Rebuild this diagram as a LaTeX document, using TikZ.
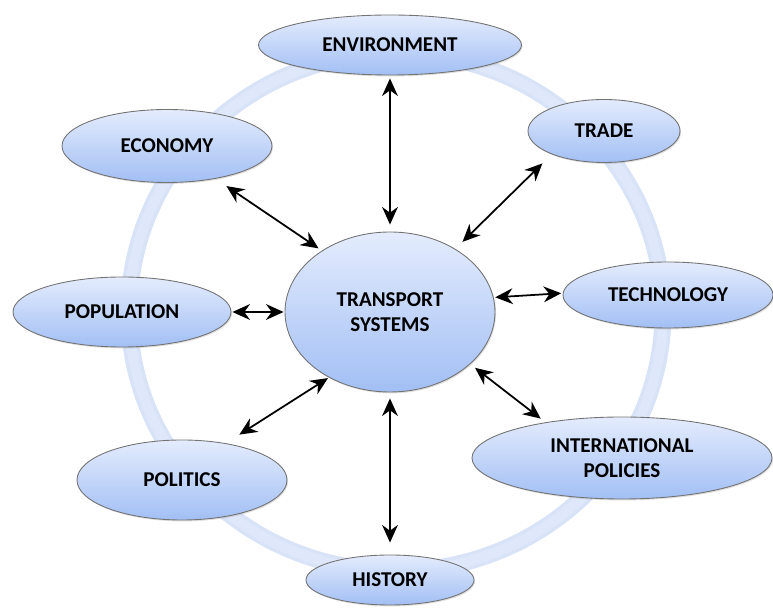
\documentclass[tikz,border=0pt]{standalone}
\usepackage{fontspec}
\setmainfont{Carlito}
\usepackage{tikz}
\usetikzlibrary{arrows.meta,shapes.geometric,shadows}
\definecolor{ringblue}{RGB}{216,227,247}
\definecolor{ringlight}{RGB}{222,232,250}
\definecolor{nodetop}{RGB}{228,236,253}
\definecolor{nodebot}{RGB}{162,191,244}

\begin{document}
\begin{tikzpicture}[>={Stealth[length=10pt,width=9pt]},
  topic/.style={ellipse,draw=black!55,line width=0.5pt,inner sep=0pt,align=center,
    top color=nodetop,bottom color=nodebot,
    font=\bfseries\fontsize{12}{14}\selectfont,
    drop shadow={opacity=0.25,shadow xshift=0.6pt,shadow yshift=-0.8pt}},
  link/.style={<->,line width=1pt}]
  \useasboundingbox (-7.8,6.24) rectangle (7.66,-5.92);
  % ring behind the topics
  \draw[ringblue,line width=0.34cm] (0.12,0) ellipse [x radius=5.34cm,y radius=5.18cm];
  \draw[ringlight,line width=0.2cm] (0.12,0) ellipse [x radius=5.34cm,y radius=5.18cm];

  \node[topic,minimum width=4.2cm,minimum height=3.2cm] (ts) at (0,0) {TRANSPORT\\SYSTEMS};
  \node[topic,minimum width=5.26cm,minimum height=1.2cm] (env) at (0,5.34) {ENVIRONMENT};
  \node[topic,minimum width=3.04cm,minimum height=1.26cm] (trade) at (4.28,3.62) {TRADE};
  \node[topic,minimum width=4.2cm,minimum height=1.32cm] (tech) at (5.56,0.34) {TECHNOLOGY};
  \node[topic,minimum width=6.0cm,minimum height=1.64cm] (intl) at (4.64,-2.92) {INTERNATIONAL\\POLICIES};
  \node[topic,minimum width=3.36cm,minimum height=1.0cm] (hist) at (0,-5.36) {HISTORY};
  \node[topic,minimum width=4.2cm,minimum height=1.6cm] (pol) at (-4.16,-3.36) {POLITICS};
  \node[topic,minimum width=4.36cm,minimum height=1.4cm] (pop) at (-5.36,0) {POPULATION};
  \node[topic,minimum width=4.2cm,minimum height=1.46cm] (eco) at (-4.46,3.32) {ECONOMY};

  % two-way links from the centre
  \draw[link,shorten <=0.14cm,shorten >=0.06cm] (ts.north) -- (env.south);
  \draw[link,shorten <=0.2cm,shorten >=0.26cm] (ts.44) -- (trade.204);
  \draw[link,shorten <=0.03cm,shorten >=0.03cm] (ts.8) -- (tech.179);
  \draw[link,shorten <=0.12cm,shorten >=0.12cm] (ts.-33) -- (intl.155);
  \draw[link,shorten <=0.12cm,shorten >=0.24cm] (ts.south) -- (hist.north);
  \draw[link,shorten <=0.02cm,shorten >=0.32cm] (ts.227) -- (pol.40);
  \draw[link,shorten <=0.02cm,shorten >=0.02cm] (ts.west) -- (pop.east);
  \draw[link,shorten <=0.08cm,shorten >=0.26cm] (ts.138) -- (eco.-34);
\end{tikzpicture}
\end{document}
